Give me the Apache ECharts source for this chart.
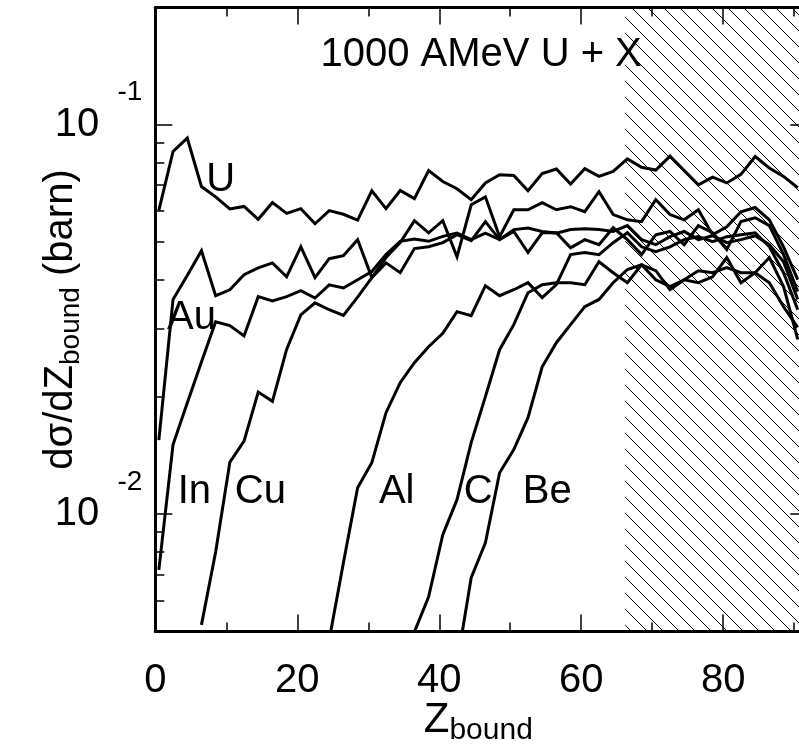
<!DOCTYPE html>
<html>
<head>
<meta charset="utf-8">
<script src="https://cdn.jsdelivr.net/npm/echarts@6/dist/echarts.min.js"></script>
<style>
  html, body { margin: 0; padding: 0; background: #fff; }
  #chart { width: 799px; height: 744px; }
</style>
</head>
<body>
<div id="chart"></div>
<script>
// Z_bound bin centres
const zbound = [0.5, 2.5, 4.5, 6.5, 8.5, 10.5, 12.5, 14.5, 16.5, 18.5, 20.5, 22.5, 24.5, 26.5, 28.5,
  30.5, 32.5, 34.5, 36.5, 38.5, 40.5, 42.5, 44.5, 46.5, 48.5, 50.5, 52.5, 54.5, 56.5, 58.5,
  60.5, 62.5, 64.5, 66.5, 68.5, 70.5, 72.5, 74.5, 76.5, 78.5, 80.5, 82.5, 84.5, 86.5, 88.5, 90.5];

// dsigma/dZbound (barn) per target
const sigU = [0.0603, 0.0854, 0.0924, 0.0694, 0.0653, 0.0608, 0.0617, 0.0572, 0.0631, 0.0592, 0.0609, 0.0557, 0.0602, 0.0589, 0.0569,
  0.0677, 0.0609, 0.0678, 0.0646, 0.0763, 0.0715, 0.0685, 0.0642, 0.0709, 0.0744, 0.0741, 0.0677, 0.0749, 0.0770, 0.0704,
  0.0771, 0.0737, 0.0759, 0.0817, 0.0778, 0.0765, 0.0831, 0.0763, 0.0701, 0.0734, 0.0709, 0.0746, 0.0829, 0.0774, 0.0737, 0.0689];
const sigAu = [0.0155, 0.0356, 0.0410, 0.0475, 0.0364, 0.0377, 0.0412, 0.0429, 0.0442, 0.0407, 0.0486, 0.0405, 0.0453, 0.0461, 0.0507,
  0.0405, 0.0456, 0.0498, 0.0567, 0.0528, 0.0567, 0.0458, 0.0623, 0.0653, 0.0516, 0.0605, 0.0605, 0.0631, 0.0605, 0.0616,
  0.0598, 0.0673, 0.0588, 0.0570, 0.0564, 0.0642, 0.0588, 0.0570, 0.0605, 0.0522, 0.0547, 0.0598, 0.0613, 0.0570, 0.0486, 0.0400];
const sigIn = [0.0072, 0.0151, 0.0193, 0.0246, 0.0312, 0.0305, 0.0287, 0.0362, 0.0353, 0.0362, 0.0375, 0.0359, 0.0388, 0.0381, 0.0400,
  0.0420, 0.0464, 0.0502, 0.0509, 0.0502, 0.0517, 0.0527, 0.0507, 0.0527, 0.0507, 0.0538, 0.0543, 0.0532, 0.0527, 0.0538,
  0.0541, 0.0538, 0.0532, 0.0551, 0.0507, 0.0492, 0.0516, 0.0532, 0.0507, 0.0519, 0.0498, 0.0507, 0.0519, 0.0492, 0.0445, 0.0356];
const sigCu = [null, null, null, 0.0052, 0.0080, 0.0136, 0.0154, 0.0206, 0.0195, 0.0265, 0.0325, 0.0349, 0.0335, 0.0324, 0.0361,
  0.0405, 0.0442, 0.0417, 0.0481, 0.0486, 0.0498, 0.0522, 0.0504, 0.0564, 0.0507, 0.0532, 0.0470, 0.0528, 0.0528, 0.0483,
  0.0507, 0.0492, 0.0544, 0.0507, 0.0464, 0.0522, 0.0532, 0.0492, 0.0551, 0.0528, 0.0478, 0.0564, 0.0577, 0.0551, 0.0464, 0.0373];
const sigAl = [null, null, null, null, null, null, null, null, null, null, null, null, 0.00476, 0.00751, 0.0117,
  0.01356, 0.01823, 0.02176, 0.02449, 0.02692, 0.02916, 0.03312, 0.03235, 0.03862, 0.0364, 0.03771, 0.03931, 0.03598, 0.03885, 0.0464,
  0.0470, 0.0464, 0.0498, 0.0528, 0.0486, 0.0472, 0.0486, 0.0507, 0.0516, 0.0501, 0.0516, 0.0522, 0.0528, 0.0486, 0.0417, 0.0335];
const sigC = [null, null, null, null, null, null, null, null, null, null, null, null, null, null, null,
  null, null, null, 0.00499, 0.00614, 0.00886, 0.0109, 0.01527, 0.02004, 0.02645, 0.03067, 0.03705, 0.03885, 0.03931, 0.03931,
  0.03885, 0.0445, 0.0417, 0.0393, 0.0437, 0.0422, 0.0377, 0.0400, 0.0393, 0.0407, 0.0456, 0.0393, 0.0417, 0.0456, 0.0384, 0.0281];
const sigBe = [null, null, null, null, null, null, null, null, null, null, null, null, null, null, null,
  null, null, null, null, null, null, 0.00413, 0.00687, 0.00845, 0.01278, 0.01465, 0.0177, 0.02392, 0.02757, 0.03067,
  0.03411, 0.0356, 0.0393, 0.0425, 0.0437, 0.0400, 0.0384, 0.0400, 0.0422, 0.0417, 0.0430, 0.0417, 0.0417, 0.0393, 0.0341, 0.0302];

const targets = ['U', 'Au', 'In', 'Cu', 'Al', 'C', 'Be'];
const curves = [sigU, sigAu, sigIn, sigCu, sigAl, sigC, sigBe];

// text placed in data coordinates: [Z, dsigma, text]
const textMarks = [
  [9.2, 0.0720, 'U'], [5.1, 0.0320, 'Au'], [5.5, 0.0114, 'In'], [14.8, 0.0114, 'Cu'],
  [34.0, 0.0114, 'Al'], [45.5, 0.0114, 'C'], [55.2, 0.0114, 'Be'],
  [45.9, 0.151, '1000 AMeV U + X']
];

const yMajor = [0.01, 0.1];
const yExponents = ['-2', '-1'];
const yMinor = [0.006, 0.007, 0.008, 0.009, 0.02, 0.03, 0.04, 0.05, 0.06, 0.07, 0.08, 0.09];
const hatchStart = 66.2;

const font = 'Liberation Sans, Arial, Helvetica, sans-serif';

// hatch tile
const tile = document.createElement('canvas');
tile.width = 16; tile.height = 16;
const g = tile.getContext('2d');
g.strokeStyle = '#000';
g.lineWidth = 1;
g.beginPath();
g.moveTo(-2, -2); g.lineTo(18, 18);
g.moveTo(-2, 14); g.lineTo(2, 18);
g.moveTo(14, -2); g.lineTo(18, 2);
g.stroke();

const chart = echarts.init(document.getElementById('chart'));

const xBase = {
  type: 'value', min: 0, max: 91, interval: 20,
  splitLine: { show: false },
  axisLine: { show: true, onZero: false, lineStyle: { color: '#000', width: 3 } },
  axisTick: { show: true, inside: true, length: 17, lineStyle: { color: '#000', width: 1.5 } },
  minorTick: { show: true, splitNumber: 2, length: 9, lineStyle: { color: '#000', width: 1.5 } }
};
const yBase = {
  type: 'log', logBase: 10, min: 0.005, max: 0.2,
  splitLine: { show: false },
  axisLine: { show: false, lineStyle: { color: '#000', width: 3 } },
  axisLabel: { show: false },
  axisTick: { show: false }
};

const series = curves.map((vals, i) => ({
  name: targets[i],
  type: 'line',
  xAxisIndex: 0, yAxisIndex: 0,
  data: zbound.map((z, j) => [z, vals[j]]).filter(p => p[1] != null),
  showSymbol: false,
  symbol: 'none',
  clip: true,
  z: 3,
  lineStyle: { color: '#000', width: 3, join: 'miter' }
}));

series[0].markArea = {
  silent: true,
  z: 1,
  itemStyle: { color: { image: tile, repeat: 'repeat' } },
  data: [[{ xAxis: hatchStart }, { xAxis: 91 }]]
};

chart.setOption({
  animation: false,
  backgroundColor: '#fff',
  grid: { left: 155.3, top: 7.5, width: 646, height: 624, containLabel: false, outerBoundsMode: 'none' },
  xAxis: [
    Object.assign({}, xBase, {
      position: 'bottom',
      axisLabel: { show: true, fontSize: 40, fontFamily: font, color: '#000', margin: 29, showMaxLabel: false },
      name: '{z|Z}{s|bound}',
      nameLocation: 'middle',
      nameGap: 68,
      nameMoveOverlap: false,
      nameTextStyle: {
        fontFamily: font, color: '#000',
        rich: {
          z: { fontSize: 42, fontFamily: font, color: '#000', verticalAlign: 'top' },
          s: { fontSize: 30, fontFamily: font, color: '#000', verticalAlign: 'top', padding: [16, 0, 0, 0] }
        }
      }
    }),
    Object.assign({}, xBase, { position: 'top', axisLabel: { show: false } })
  ],
  yAxis: [
    Object.assign({}, yBase, {
      position: 'left',
      axisLine: { show: true, lineStyle: { color: '#000', width: 3 } },
      axisTick: { show: true, inside: true, length: 17, customValues: yMajor, lineStyle: { color: '#000', width: 1.5 } },
      axisLabel: {
        show: true, customValues: yMajor, margin: 56,
        fontSize: 40, fontFamily: font, color: '#000',
        formatter: () => '10'
      },
      name: '{t|dσ/dZ}{s|bound}{t| (barn)}',
      nameLocation: 'middle',
      nameRotate: 90,
      nameGap: 70,
      nameMoveOverlap: false,
      nameTextStyle: {
        fontFamily: font, color: '#000',
        rich: {
          t: { fontSize: 40, fontFamily: font, color: '#000', verticalAlign: 'top' },
          s: { fontSize: 28, fontFamily: font, color: '#000', verticalAlign: 'top', padding: [16, 0, 0, 0] }
        }
      }
    }),
    Object.assign({}, yBase, {
      position: 'left',
      axisTick: { show: true, inside: true, length: 9, customValues: yMinor, lineStyle: { color: '#000', width: 1.5 } }
    }),
    Object.assign({}, yBase, {
      position: 'right',
      axisLine: { show: true, lineStyle: { color: '#000', width: 3 } },
      axisTick: { show: true, inside: true, length: 11, customValues: yMajor, lineStyle: { color: '#000', width: 1.5 } }
    })
  ],
  series: series
});

// decade exponents above each "10", plus the in-plot texts, placed through the axes
const axisX = chart.convertToPixel({ xAxisIndex: 0 }, 0);
const graphics = yMajor.map((v, i) => ({
  type: 'text',
  x: axisX - 13,
  y: chart.convertToPixel({ yAxisIndex: 0 }, v) - 32,
  z: 10,
  style: {
    text: yExponents[i], font: '28px ' + font, fill: '#000',
    align: 'right', verticalAlign: 'middle'
  }
}));
textMarks.forEach(m => {
  const p = chart.convertToPixel({ xAxisIndex: 0, yAxisIndex: 0 }, [m[0], m[1]]);
  graphics.push({
    type: 'text', x: p[0], y: p[1], z: 10,
    style: { text: m[2], font: '40px ' + font, fill: '#000', align: 'center', verticalAlign: 'middle' }
  });
});
chart.setOption({ graphic: graphics });
</script>
</body>
</html>
